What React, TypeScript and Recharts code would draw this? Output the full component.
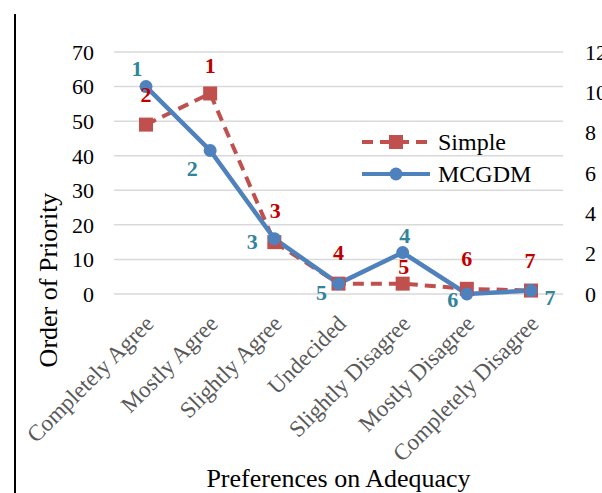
import React from 'react';
import { LineChart, Line, XAxis, YAxis, CartesianGrid, Legend, LabelList } from 'recharts';

const categories = ['Completely Agree', 'Mostly Agree', 'Slightly Agree', 'Undecided', 'Slightly Disagree', 'Mostly Disagree', 'Completely Disagree'];
const simpleValues = [49, 58, 15, 3, 3, 1.5, 1];
const mcgdmValues = [60, 41.5, 16, 3, 12, 0, 1];
const simpleRanks = [2, 1, 3, 4, 5, 6, 7];
const mcgdmRanks = [1, 2, 3, 5, 4, 6, 7];
const leftTicks = [0, 10, 20, 30, 40, 50, 60, 70];
const rightTicks = [0, 2, 4, 6, 8, 10, 12];

const FONT = '"Liberation Serif", "Times New Roman", serif';
const RED = '#C0504D';
const BLUE = '#4F81BD';
const RED_TEXT = '#C00000';
const TEAL_TEXT = '#31849B';

// where each rank number sits relative to its point (Excel placed them by hand)
const simpleLabelShift = [[0, -30], [0, -28], [1, -32], [0, -31], [1, -17], [0, -30], [-1, -30]];
const mcgdmLabelShift = [[-9, -18], [-18, 18], [-22, 3], [-17, 9], [2, -17], [-14, 5], [19, 7]];

const data = categories.map((name, i) => ({
  name,
  simple: simpleValues[i],
  mcgdm: mcgdmValues[i],
  simpleRank: simpleRanks[i],
  mcgdmRank: mcgdmRanks[i],
}));

const SquareDot = (props: any) => {
  const { cx, cy, index } = props;
  if (cx == null || cy == null) return null;
  return <rect key={`sq-${index}`} x={cx - 7} y={cy - 7} width={14} height={14} fill={RED} />;
};

const CircleDot = (props: any) => {
  const { cx, cy, index } = props;
  if (cx == null || cy == null) return null;
  return <circle key={`ci-${index}`} cx={cx} cy={cy} r={6.5} fill={BLUE} />;
};

const makeRankLabel = (shift: number[][], color: string) => (props: any) => {
  const { x, y, value, index } = props;
  const [dx, dy] = shift[index] || [0, -20];
  return (
    <text
      x={x + dx}
      y={y + dy}
      textAnchor="middle"
      dominantBaseline="central"
      fill={color}
      fontFamily={FONT}
      fontWeight="bold"
      fontSize={22}
    >
      {value}
    </text>
  );
};

const CategoryTick = (props: any) => {
  const { x, y, payload } = props;
  const tx = x + 9;
  const ty = y + 29;
  return (
    <text
      x={tx}
      y={ty}
      textAnchor="end"
      transform={`rotate(-45, ${tx}, ${ty})`}
      fill="#595959"
      fontFamily={FONT}
      fontSize={23}
    >
      {payload.value}
    </text>
  );
};

const LegendBox = () => {
  const rows = [
    { name: 'Simple', color: RED, dashed: true, square: true },
    { name: 'MCGDM', color: BLUE, dashed: false, square: false },
  ];
  return (
    <div style={{ fontFamily: FONT, fontSize: 24, color: '#000' }}>
      {rows.map((r) => (
        <div key={r.name} style={{ display: 'flex', alignItems: 'center', height: 32 }}>
          <svg width={72} height={20} style={{ marginRight: 6 }}>
            <line
              x1={2}
              y1={10}
              x2={70}
              y2={10}
              stroke={r.color}
              strokeWidth={4}
              strokeDasharray={r.dashed ? '11 7' : undefined}
            />
            {r.square ? (
              <rect x={29} y={3} width={14} height={14} fill={r.color} />
            ) : (
              <circle cx={36} cy={10} r={6.5} fill={r.color} />
            )}
          </svg>
          <span>{r.name}</span>
        </div>
      ))}
    </div>
  );
};

export default function App() {
  return (
    <div style={{ position: 'absolute', left: 0, top: 0, width: 602, height: 493, background: '#fff', overflow: 'hidden' }}>
      <div style={{ position: 'absolute', left: 14, top: 14, width: 2, height: 479, background: '#000' }} />
      <LineChart
        width={602}
        height={493}
        data={data}
        margin={{ top: 52, right: 0, bottom: 0, left: 30 }}
        style={{ fontFamily: FONT }}
      >
        <CartesianGrid yAxisId="left" vertical={false} stroke="#d9d9d9" strokeWidth={1.5} />
        <XAxis
          dataKey="name"
          height={199}
          padding={{ left: 32, right: 32 }}
          axisLine={false}
          tickLine={false}
          tickSize={0}
          interval={0}
          tick={<CategoryTick />}
          label={(p: any) => {
            const vb = p.viewBox;
            return (
              <text
                x={vb.x + vb.width / 2}
                y={vb.y + vb.height - 6}
                textAnchor="middle"
                fontFamily={FONT}
                fontSize={26}
                fill="#000"
              >
                Preferences on Adequacy
              </text>
            );
          }}
        />
        <YAxis
          yAxisId="left"
          width={84}
          domain={[0, 70]}
          ticks={leftTicks}
          axisLine={false}
          tickLine={false}
          tickSize={0}
          tickMargin={20}
          tick={{ fontSize: 22, fill: '#000', fontFamily: FONT }}
          label={(p: any) => {
            const vb = p.viewBox;
            const lx = vb.x + 27;
            const ly = vb.y + vb.height / 2 + 107;
            return (
              <text
                x={lx}
                y={ly}
                textAnchor="middle"
                transform={`rotate(-90, ${lx}, ${ly})`}
                fontFamily={FONT}
                fontSize={26}
                fill="#000"
              >
                Order of Priority
              </text>
            );
          }}
        />
        <YAxis
          yAxisId="right"
          orientation="right"
          type="number"
          width={39}
          domain={[0, 12]}
          allowDataOverflow
          ticks={rightTicks}
          axisLine={false}
          tickLine={false}
          tickSize={0}
          tickMargin={22}
          tick={{ fontSize: 22, fill: '#000', fontFamily: FONT, textAnchor: 'start' }}
        />
        <Legend
          layout="horizontal"
          verticalAlign="middle"
          align="center"
          content={<LegendBox />}
          wrapperStyle={{ left: 360, top: 126, width: 200 }}
        />
        <Line
          yAxisId="left"
          type="linear"
          dataKey="simple"
          name="Simple"
          stroke={RED}
          strokeWidth={4}
          strokeDasharray="11 7"
          dot={<SquareDot />}
          activeDot={false}
          isAnimationActive={false}
        >
          <LabelList dataKey="simpleRank" content={makeRankLabel(simpleLabelShift, RED_TEXT)} />
        </Line>
        <Line
          yAxisId="left"
          type="linear"
          dataKey="mcgdm"
          name="MCGDM"
          stroke={BLUE}
          strokeWidth={4.5}
          dot={<CircleDot />}
          activeDot={false}
          isAnimationActive={false}
        >
          <LabelList dataKey="mcgdmRank" content={makeRankLabel(mcgdmLabelShift, TEAL_TEXT)} />
        </Line>
      </LineChart>
    </div>
  );
}
